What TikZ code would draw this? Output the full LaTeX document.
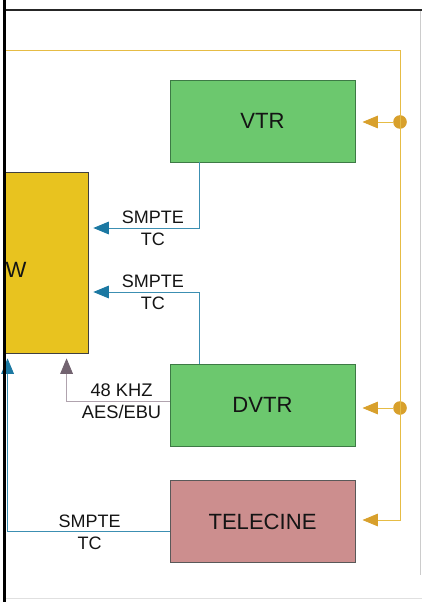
\documentclass[tikz,border=0pt]{standalone}
\usepackage{fontspec}
\setmainfont{Liberation Sans}
\usepackage{xcolor}
\usetikzlibrary{positioning,arrows.meta,calc}
\definecolor{BoxGreen}{HTML}{6CC86E}
\definecolor{EdgeGreen}{HTML}{3D7A45}
\definecolor{BoxGold}{HTML}{E8C31F}
\definecolor{BoxPink}{HTML}{CC8E8E}
\definecolor{LineBlue}{HTML}{3C8FB2}
\definecolor{TipBlue}{HTML}{1B78A2}
\definecolor{LineGold}{HTML}{E6BC45}
\definecolor{TipGold}{HTML}{D8A02C}
\definecolor{LineMauve}{HTML}{8E7C8C}
\definecolor{TextDark}{HTML}{141414}

\begin{document}
\begin{tikzpicture}[x=0.025cm,y=-0.025cm,
          every node/.style={text=TextDark},
          unit/.style={draw=EdgeGreen, fill=BoxGreen, line width=0.6pt, inner sep=0pt,
            minimum width=4.625cm, minimum height=2.05cm, font=\fontsize{15.7}{18}\selectfont},
          lbl/.style={align=center, inner sep=0pt, font=\fontsize{12.8}{15.6}\selectfont},
          dot/.style={circle, fill=TipGold, inner sep=0pt, minimum size=0.34cm},
          tc/.style={-{Triangle[length=11pt,width=9pt,color=TipBlue]}, LineBlue, line width=0.6pt, shorten >=3.5pt},
          aes/.style={-{Triangle[length=11pt,width=9pt,color=LineMauve!80!black]}, LineMauve!70, line width=0.6pt, shorten >=3.5pt},
          ref/.style={-{Triangle[length=11pt,width=9pt,color=TipGold]}, LineGold, line width=0.6pt, shorten >=5pt}]
        \useasboundingbox (0,0) rectangle (422,602);
        \node[draw=black!75, fill=BoxGold, line width=0.6pt, inner sep=0pt,
          minimum width=2.075cm, minimum height=4.525cm] (sync) at (46.5,262.5) {};
        \node[font=\fontsize{15.7}{18}\selectfont, inner sep=0pt] (syncw) at (16,270) {W};
        \node[unit] (vtr) at (262.5,121) {VTR};
        \node[unit] (dvtr) at (262.5,405) {DVTR};
        \node[unit, draw=black!65, fill=BoxPink] (tele) at (262.5,521.5) {TELECINE};
        \node[dot] (vtrdot) at (400,122) {};
        \node[dot] (dvtrdot) at (400,408) {};
        \coordinate (refin) at (5,50);
        \coordinate (refcorner) at (400,520);
        % time code and audio feeds
        \draw[tc] ($(vtr.south west)+(30,0)$) |- ($(sync.east)+(0,-34.5)$)
          node[lbl,pos=.71] {SMPTE\\TC};
        \draw[tc] ($(dvtr.north west)+(30,0)$) |- ($(sync.east)+(0,29.5)$)
          node[lbl,pos=.71] {SMPTE\\TC};
        \draw[aes] ($(dvtr.west)+(0,-4)$) -| ($(sync.south west)+(62,0)$)
          node[lbl,pos=.233,font=\fontsize{13}{15.6}\selectfont] {48 KHZ\\AES/EBU};
        \draw[tc] ($(tele.west)+(0,9.5)$) -| ($(sync.south west)+(3,0)$)
          node[lbl,pos=.247,yshift=-1pt] {SMPTE\\TC};
        % reference
        \draw[ref] (refin) -| (refcorner) -- (refcorner -| tele.east);
        \draw[ref] (vtrdot) -- (vtrdot -| vtr.east);
        \draw[ref] (dvtrdot) -- (dvtrdot -| dvtr.east);
        % frame
        \draw[black!20, line width=0.5pt] (420,10) -- (420,575);
        \draw[black!12, line width=0.5pt] (5,598) -- (422,598);
        \draw[black!85, line width=1.4pt] (5,10) -- (422,10);
        \draw[black, line width=2pt] (4.5,0) -- (4.5,602);
      \end{tikzpicture}
\end{document}
